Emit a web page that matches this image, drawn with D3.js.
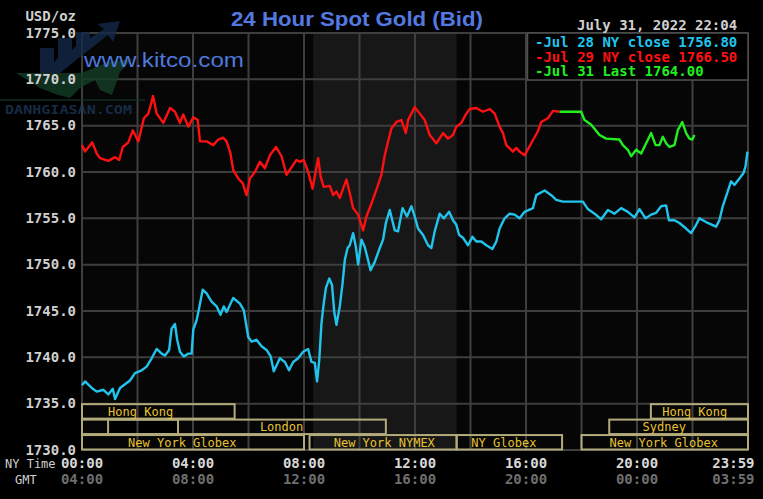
<!DOCTYPE html>
<html><head><meta charset="utf-8">
<script src="https://cdn.jsdelivr.net/npm/d3@7"></script>
<style>html,body{margin:0;padding:0;background:#000;overflow:hidden}</style>
</head><body>
<svg id="c" width="763" height="499"></svg>
<script>
// ---------- DATA ----------
const yTicks = [1730, 1735, 1740, 1745, 1750, 1755, 1760, 1765, 1770, 1775];
const xGridHours = [0, 2, 4, 6, 8, 10, 12, 14, 16, 18, 20, 22, 24];
const xLabelHours = [0, 4, 8, 12, 16, 20, 23.983];
const nyLabels = ["00:00", "04:00", "08:00", "12:00", "16:00", "20:00", "23:59"];
const gmtLabels = ["04:00", "08:00", "12:00", "16:00", "20:00", "00:00", "03:59"];

// Jul 28 (cyan): hours since 00:00 NY, price
const jul28Hours = [0.00,0.11,0.35,0.53,0.77,0.95,1.11,1.19,1.37,1.55,1.73,1.91,2.15,2.33,2.51,2.69,2.87,2.99,3.14,3.23,3.35,3.43,3.53,3.67,3.83,3.95,4.01,4.13,4.22,4.35,4.49,4.67,4.85,4.99,5.11,5.21,5.45,5.69,5.83,5.99,6.11,6.29,6.47,6.65,6.80,6.91,7.13,7.31,7.46,7.61,7.79,7.97,8.15,8.27,8.39,8.47,8.55,8.63,8.71,8.79,8.91,9.01,9.09,9.17,9.29,9.39,9.47,9.57,9.65,9.77,9.87,9.95,10.07,10.19,10.40,10.55,10.73,10.85,10.95,11.09,11.27,11.39,11.55,11.71,11.87,11.99,12.11,12.29,12.47,12.59,12.71,12.89,13.04,13.23,13.37,13.49,13.59,13.73,13.91,14.07,14.21,14.39,14.57,14.79,14.93,15.05,15.23,15.41,15.59,15.77,15.95,16.25,16.37,16.67,16.91,17.09,17.33,18.05,18.23,18.47,18.71,18.95,19.19,19.43,19.67,19.91,20.09,20.31,20.51,20.69,20.87,21.05,21.15,21.35,21.53,21.77,21.95,22.13,22.25,22.49,22.85,22.97,23.09,23.27,23.39,23.51,23.69,23.84,23.91,23.98];
const jul28Values = [1737.0,1737.4,1736.7,1736.3,1736.5,1736.0,1736.6,1735.5,1736.7,1737.1,1737.5,1738.3,1738.6,1739.0,1739.9,1740.9,1740.4,1740.2,1740.8,1743.1,1743.6,1741.9,1740.6,1740.1,1740.4,1740.4,1743.0,1744.0,1745.3,1747.3,1746.9,1746.0,1745.5,1744.6,1745.5,1744.9,1746.4,1745.8,1745.1,1742.2,1741.7,1741.9,1741.2,1740.8,1740.1,1738.5,1739.9,1739.5,1738.6,1739.5,1739.9,1740.6,1740.9,1739.5,1739.4,1737.4,1739.7,1743.7,1745.8,1747.5,1748.5,1747.8,1744.9,1743.5,1745.5,1748.0,1750.5,1751.8,1752.1,1753.4,1751.9,1750.0,1752.7,1751.9,1749.4,1750.3,1751.8,1752.7,1754.5,1755.9,1753.7,1753.6,1756.1,1755.2,1756.3,1755.2,1753.9,1753.2,1752.1,1751.8,1753.6,1755.5,1755.0,1755.7,1754.8,1754.3,1753.2,1752.9,1752.1,1753.0,1752.5,1752.5,1752.1,1751.7,1752.5,1753.9,1755.0,1755.5,1755.4,1755.0,1755.7,1756.1,1757.5,1758.0,1757.5,1757.0,1756.8,1756.8,1756.0,1755.5,1754.9,1755.9,1755.5,1756.1,1755.7,1755.1,1756.0,1755.0,1755.4,1755.6,1756.3,1756.4,1754.8,1754.8,1754.5,1753.9,1753.4,1754.3,1755.0,1754.6,1754.1,1754.8,1756.3,1757.9,1759.0,1758.6,1759.3,1759.9,1760.6,1762.2];

// Jul 29 (red)
const jul29Hours = [0.00,0.11,0.37,0.53,0.65,0.95,1.19,1.34,1.47,1.67,1.83,2.03,2.23,2.39,2.51,2.56,2.69,2.93,3.17,3.35,3.53,3.65,3.83,4.01,4.17,4.25,4.49,4.73,4.91,5.09,5.21,5.35,5.45,5.63,5.79,5.93,6.05,6.23,6.41,6.59,6.77,6.99,7.19,7.37,7.73,7.85,7.99,8.15,8.31,8.43,8.51,8.60,8.71,8.93,9.05,9.17,9.29,9.41,9.53,9.65,9.77,9.95,10.13,10.25,10.43,10.61,10.79,10.91,11.03,11.15,11.33,11.51,11.67,11.75,11.99,12.17,12.35,12.53,12.77,13.01,13.19,13.37,13.49,13.67,13.85,13.97,14.21,14.45,14.69,14.87,15.05,15.17,15.29,15.53,15.65,15.77,15.95,16.19,16.43,16.55,16.79,16.97,17.21];
const jul29Values = [1762.9,1762.2,1763.2,1762.0,1761.5,1761.2,1761.6,1761.3,1762.7,1763.2,1764.5,1763.3,1765.8,1766.3,1767.6,1768.2,1766.3,1765.3,1766.9,1766.5,1765.3,1766.2,1764.9,1765.9,1765.6,1763.3,1763.3,1762.9,1763.5,1763.7,1763.3,1762.0,1760.2,1759.3,1758.8,1757.5,1759.3,1760.0,1761.1,1760.4,1761.8,1762.7,1761.7,1759.7,1761.3,1761.1,1761.3,1760.0,1758.2,1760.2,1761.5,1759.5,1758.4,1758.5,1757.5,1757.9,1757.2,1758.2,1759.2,1757.7,1756.1,1755.4,1753.7,1755.2,1756.6,1758.1,1759.7,1761.8,1763.3,1764.7,1765.4,1765.6,1764.2,1765.6,1767.0,1766.3,1765.6,1764.0,1763.1,1764.2,1763.6,1764.0,1764.9,1765.3,1766.3,1766.8,1766.9,1766.5,1766.8,1766.3,1764.9,1764.2,1762.9,1762.2,1762.6,1762.2,1761.8,1763.1,1764.4,1765.4,1765.8,1766.6,1766.5];

// Jul 31 (green)
const jul31Hours = [17.21,17.99,18.11,18.35,18.65,18.89,19.37,19.49,19.67,19.79,19.97,20.15,20.33,20.51,20.67,20.81,20.93,21.05,21.17,21.35,21.47,21.63,21.77,21.89,21.99,22.07];
const jul31Values = [1766.5,1766.5,1765.6,1765.1,1764.0,1763.6,1763.5,1762.9,1762.4,1761.7,1762.4,1762.0,1763.1,1764.2,1762.9,1762.9,1763.8,1763.1,1762.7,1762.9,1764.5,1765.4,1764.2,1763.6,1763.5,1764.0];

const legendLabels = ["-Jul 28 NY close 1756.80", "-Jul 29 NY close 1766.50", "-Jul 31 Last 1764.00"];
const seriesColors = ["#20c4ec", "#ff1010", "#22ee22"];

// trading sessions: row, start hour, end hour, label, label start hour
const sessRow   = [0, 0, 1, 1, 1, 2, 2, 2, 2];
const sessStart = [0, 20.5, 0, 0.94, 19, 0, 8.2, 13.5, 18];
const sessEnd   = [5.5, 24, 10.95, 3.46, 24, 8.0, 13.5, 17.3, 24];
const sessLabel = ["Hong Kong", "Hong Kong", "London", "", "Sydney", "New York Globex", "New York NYMEX", "NY Globex", "New York Globex"];
const sessLabelAt = [0.94, 20.91, 6.41, 0, 20.2, 1.66, 9.07, 14.03, 19.01];
const nymexShade = [8.33, 13.5];

// ---------- DRAW ----------
const svg = d3.select("#c");
const W = 763, H = 499;
const x = d3.scaleLinear().domain([0, 24]).range([82, 748]);
const y = d3.scaleLinear().domain([1730, 1775]).range([450, 33]);
const mono = "'DejaVu Sans Mono', 'Liberation Mono', monospace";

svg.append("rect").attr("width", W).attr("height", H).attr("fill", "#000");
svg.append("rect").attr("x", x(0)).attr("y", y(1775)).attr("width", x(24) - x(0)).attr("height", y(1730) - y(1775)).attr("fill", "#060606");
svg.append("rect").attr("x", x(nymexShade[0])).attr("y", y(1775)).attr("width", x(nymexShade[1]) - x(nymexShade[0])).attr("height", y(1730) - y(1775)).attr("fill", "#171717");

// session boxes
const rowH = (y(1730) - y(1735)) / 3;
const sessions = sessRow.map((r, i) => ({ r, s: sessStart[i], e: sessEnd[i], l: sessLabel[i], la: sessLabelAt[i] }));
svg.append("g").selectAll("rect").data(sessions).join("rect")
  .attr("x", d => x(d.s)).attr("y", d => y(1735) + d.r * rowH)
  .attr("width", d => x(d.e) - x(d.s)).attr("height", rowH)
  .attr("fill", d => d.l === "" ? "#000" : "none");

// grid
const grid = svg.append("g").attr("stroke", "#3e3e3e").attr("stroke-width", 2);
grid.selectAll("line.h").data(yTicks).join("line").attr("class", "h")
  .attr("x1", x(0)).attr("x2", x(24)).attr("y1", d => y(d)).attr("y2", d => y(d));
grid.selectAll("line.v").data(xGridHours).join("line").attr("class", "v")
  .attr("x1", d => x(d)).attr("x2", d => x(d)).attr("y1", y(1775)).attr("y2", y(1730));

// session outlines and labels
svg.append("g").selectAll("rect").data(sessions).join("rect")
  .attr("x", d => x(d.s)).attr("y", d => y(1735) + d.r * rowH + 0.5)
  .attr("width", d => x(d.e) - x(d.s)).attr("height", rowH - 1)
  .attr("fill", "none").attr("stroke", "#b3ab7c").attr("stroke-width", 2);
svg.append("g").selectAll("text").data(sessions.filter(d => d.l)).join("text")
  .attr("x", d => x(d.la)).attr("y", d => y(1735) + d.r * rowH + rowH / 2 + 4.5)
  .attr("fill", "#e8c232").attr("font-family", mono).attr("font-size", 12)
  .text(d => d.l);

// series lines
const line = d3.line().x(d => x(d[0])).y(d => y(d[1]));
const series = [
  d3.zip(jul28Hours, jul28Values),
  d3.zip(jul29Hours, jul29Values),
  d3.zip(jul31Hours, jul31Values)
];
svg.append("g").selectAll("path").data(series).join("path")
  .attr("d", line).attr("fill", "none")
  .attr("stroke", (d, i) => seriesColors[i]).attr("stroke-width", 2.4)
  .attr("stroke-linejoin", "round");

// watermark (Danhgiasan logo)
const wm = svg.append("g").attr("opacity", 0.8);
wm.append("path").attr("fill", "#14294a")
  .attr("d", "M40,74 L40,48 L54,48 L54,62 L58,58 L58,38 L72,38 L72,50 L76,46 L76,32 L90,32 L90,38 L104,29 L97,24 L120,21 L113,42 L108,35 L56,76 Z");
wm.append("path").attr("fill", "#153d27")
  .attr("d", "M16,73 L82,73 L108,62 L132,59 L120,72 L112,95 L100,90 L95,80 L80,88 L70,98 L58,95 L40,88 Z");
wm.append("line").attr("x1", 0).attr("x2", 145).attr("y1", 100).attr("y2", 100).attr("stroke", "#16362a").attr("stroke-width", 1.5);
wm.append("text").attr("x", 5).attr("y", 113.5).attr("fill", "#1b3656")
  .attr("font-family", mono).attr("font-weight", "bold").attr("font-size", 13)
  .attr("textLength", 127).attr("lengthAdjust", "spacingAndGlyphs").text("DANHGIASAN.COM");

// legend
svg.append("rect").attr("x", 527.5).attr("y", 33).attr("width", 220.5).attr("height", 47)
  .attr("fill", "#000").attr("stroke", "#505050").attr("stroke-width", 1.5);
svg.append("g").selectAll("text").data(legendLabels).join("text")
  .attr("x", 535).attr("y", (d, i) => 47 + i * 14.5)
  .attr("fill", (d, i) => seriesColors[i]).attr("font-family", mono)
  .attr("font-weight", "bold").attr("font-size", 14).text(d => d);

// y axis labels
svg.append("g").selectAll("text").data(yTicks).join("text")
  .attr("x", 76).attr("y", d => y(d) + 4.5).attr("text-anchor", "end")
  .attr("fill", "#cfcfcf").attr("font-family", mono).attr("font-weight", "bold").attr("font-size", 14)
  .text(d => d.toFixed(1));
svg.append("text").attr("x", 76).attr("y", 21).attr("text-anchor", "end")
  .attr("fill", "#cfcfcf").attr("font-family", mono).attr("font-weight", "bold").attr("font-size", 14).text("USD/oz");

// x axis labels
const xl = svg.append("g").attr("font-family", mono).attr("font-weight", "bold").attr("font-size", 14);
xl.selectAll("text.ny").data(nyLabels).join("text").attr("class", "ny")
  .attr("x", (d, i) => i === nyLabels.length - 1 ? x(xLabelHours[i]) + 7 : x(xLabelHours[i]))
  .attr("text-anchor", (d, i) => i === nyLabels.length - 1 ? "end" : "middle")
  .attr("y", 468).attr("fill", "#d8d8d8").text(d => d);
xl.selectAll("text.gmt").data(gmtLabels).join("text").attr("class", "gmt")
  .attr("x", (d, i) => i === gmtLabels.length - 1 ? x(xLabelHours[i]) + 7 : x(xLabelHours[i]))
  .attr("text-anchor", (d, i) => i === gmtLabels.length - 1 ? "end" : "middle")
  .attr("y", 484).attr("fill", "#6e6e6e").text(d => d);
svg.append("text").attr("x", 5).attr("y", 468).attr("fill", "#cfcfcf")
  .attr("font-family", mono).attr("font-size", 12).text("NY Time");
svg.append("text").attr("x", 15).attr("y", 484).attr("fill", "#cfcfcf")
  .attr("font-family", mono).attr("font-size", 12).text("GMT");

// titles
svg.append("text").attr("x", 231).attr("y", 26).attr("fill", "#5479e0")
  .attr("font-family", "'Liberation Sans', Arial, sans-serif").attr("font-weight", "bold").attr("font-size", 21)
  .attr("textLength", 252).attr("lengthAdjust", "spacingAndGlyphs").text("24 Hour Spot Gold (Bid)");
svg.append("text").attr("x", 84).attr("y", 67).attr("fill", "#4d78dc")
  .attr("font-family", "'Liberation Sans', Arial, sans-serif").attr("font-size", 21)
  .attr("textLength", 160).attr("lengthAdjust", "spacingAndGlyphs").text("www.kitco.com");
svg.append("text").attr("x", 577).attr("y", 30).attr("fill", "#d0d0d0")
  .attr("font-family", mono).attr("font-weight", "bold").attr("font-size", 14).text("July 31, 2022 22:04");
</script>
</body></html>
